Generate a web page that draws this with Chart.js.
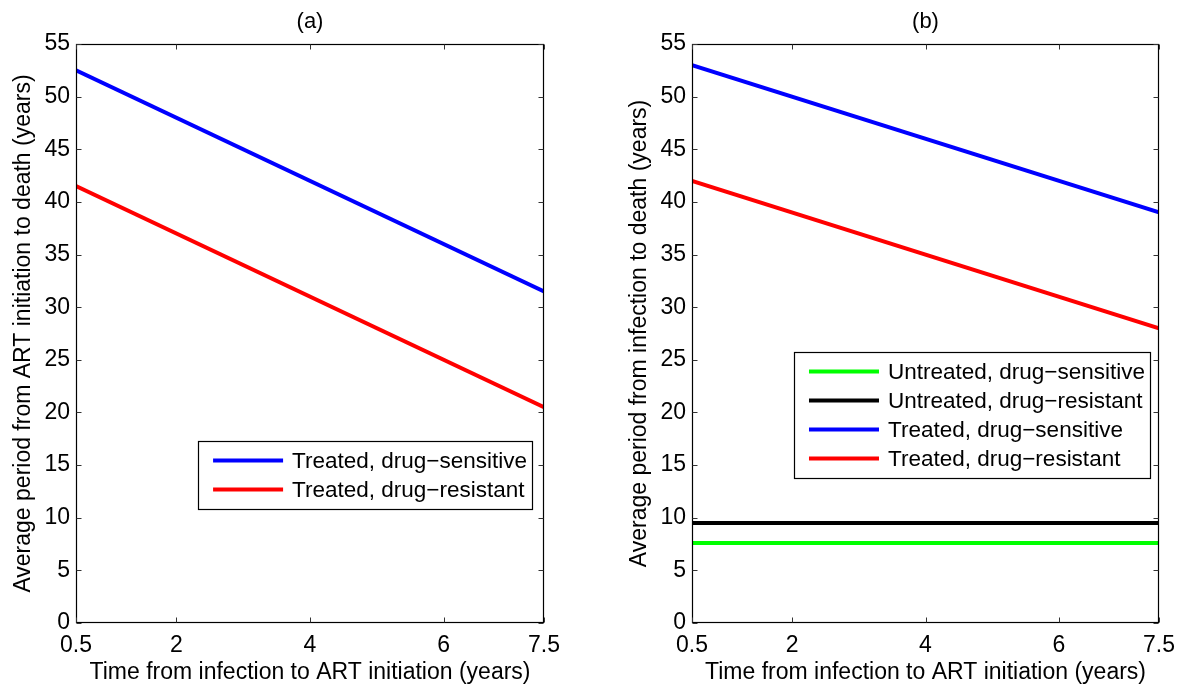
<!DOCTYPE html>
<html>
<head>
<meta charset="utf-8">
<script src="https://cdn.jsdelivr.net/npm/chart.js@4/dist/chart.umd.min.js"></script>
<style>
  html, body { margin: 0; padding: 0; background: #fff; }
  #wrap { position: relative; width: 1184px; height: 686px; }
  canvas { position: absolute; top: 0; }
  #chartA { left: 0; }
  #chartB { left: 592px; }
</style>
</head>
<body>
<div id="wrap">
  <canvas id="chartA" width="592" height="686"></canvas>
  <canvas id="chartB" width="592" height="686"></canvas>
</div>
<script>
// data
const timeToArt = [0.5, 7.5];
const xTicks = [0.5, 2, 4, 6, 7.5];

const aTreatedSensitive = [52.5, 31.5];
const aTreatedResistant = [41.5, 20.5];

const bUntreatedSensitive = [7.6, 7.6];
const bUntreatedResistant = [9.5, 9.5];
const bTreatedSensitive = [53, 39];
const bTreatedResistant = [42, 28];

const FONT = "'Liberation Sans', Arial, Helvetica, sans-serif";
Chart.defaults.font.family = FONT;
Chart.defaults.font.size = 23;
Chart.defaults.color = "#000";

const pts = ys => timeToArt.map((x, i) => ({ x, y: ys[i] }));

const line = (label, ys, color) => ({
  label,
  data: pts(ys),
  borderColor: color,
  backgroundColor: color,
  borderWidth: 4,
  pointRadius: 0,
  tension: 0
});

// matlab-style box, inward ticks, panel title and legend box
const matlabBox = {
  id: "matlabBox",
  afterDraw(chart, args, opts) {
    const { ctx, chartArea: a, scales } = chart;
    const L = Math.round(a.left) + 0.5, R = Math.round(a.right) - 0.5;
    const T = Math.round(a.top) + 0.5, B = Math.round(a.bottom) - 0.5;
    ctx.save();
    ctx.strokeStyle = "#000";
    ctx.lineWidth = 1.2;
    ctx.strokeRect(L, T, R - L, B - T);

    ctx.strokeStyle = "#333";
    ctx.lineWidth = 1;
    ctx.beginPath();
    scales.x.ticks.forEach(t => {
      const px = Math.round(scales.x.getPixelForValue(t.value)) + 0.5;
      ctx.moveTo(px, B); ctx.lineTo(px, B - 5);
      ctx.moveTo(px, T); ctx.lineTo(px, T + 5);
    });
    scales.y.ticks.forEach(t => {
      const py = Math.round(scales.y.getPixelForValue(t.value)) + 0.5;
      ctx.moveTo(L, py); ctx.lineTo(L + 5, py);
      ctx.moveTo(R, py); ctx.lineTo(R - 5, py);
    });
    ctx.stroke();

    // title
    ctx.fillStyle = "#000";
    ctx.font = "22px " + FONT;
    ctx.textAlign = "center";
    ctx.textBaseline = "middle";
    ctx.fillText(opts.title, (a.left + a.right) / 2, 22);

    // legend
    ctx.font = "22.5px " + FONT;
    const sets = chart.data.datasets;
    const order = opts.order;
    const rowH = 29;
    const textW = Math.max(...order.map(i => ctx.measureText(sets[i].label).width));
    const w = 94 + textW + 5;
    const h = (order.length - 1) * rowH + 39;
    const right = a.right - opts.right;
    const left = right - w;
    const top = opts.top != null ? a.top + opts.top : a.bottom - opts.bottom - h;
    ctx.fillStyle = "#fff";
    ctx.fillRect(left, top, w, h);
    ctx.strokeStyle = "#000";
    ctx.lineWidth = 1.2;
    ctx.strokeRect(Math.round(left) + 0.5, Math.round(top) + 0.5, Math.round(w), Math.round(h));
    ctx.textAlign = "left";
    order.forEach((idx, r) => {
      const y = top + 19.5 + r * rowH;
      ctx.strokeStyle = sets[idx].borderColor;
      ctx.lineWidth = 4;
      ctx.beginPath();
      ctx.moveTo(left + 15, y);
      ctx.lineTo(left + 85, y);
      ctx.stroke();
      ctx.fillStyle = "#000";
      ctx.fillText(sets[idx].label, left + 94, y + 1);
    });
    ctx.restore();
  }
};

function makeOptions(yWidth, yTitle, yTitlePad, rightPad, box) {
  return {
    responsive: false,
    animation: false,
    layout: { padding: { top: 44, right: rightPad, left: 0, bottom: 0 } },
    plugins: {
      legend: { display: false },
      tooltip: { enabled: false },
      matlabBox: box
    },
    scales: {
      x: {
        type: "linear",
        min: 0.5,
        max: 7.5,
        afterBuildTicks: s => { s.ticks = xTicks.map(v => ({ value: v })); },
        afterFit: s => { s.height = 63; },
        grid: { display: false, drawTicks: false },
        border: { display: false },
        ticks: { padding: 9, autoSkip: false, maxRotation: 0, callback: v => String(v) },
        title: {
          display: true,
          text: "Time from infection to ART initiation (years)",
          padding: { top: 0, bottom: 0 }
        }
      },
      y: {
        min: 0,
        max: 55,
        afterFit: s => { s.width = yWidth; },
        grid: { display: false, drawTicks: false },
        border: { display: false },
        ticks: { stepSize: 5, padding: 6 },
        title: {
          display: true,
          text: yTitle,
          padding: { top: yTitlePad, bottom: 0 }
        }
      }
    }
  };
}

new Chart(document.getElementById("chartA"), {
  type: "line",
  data: {
    datasets: [
      line("Treated, drug\u2212sensitive", aTreatedSensitive, "#0000ff"),
      line("Treated, drug\u2212resistant", aTreatedResistant, "#ff0000")
    ]
  },
  options: makeOptions(76, "Average period from ART initiation to death (years)", 10, 48,
    { title: "(a)", order: [0, 1], right: 12, bottom: 114 }),
  plugins: [matlabBox]
});

new Chart(document.getElementById("chartB"), {
  type: "line",
  data: {
    datasets: [
      line("Untreated, drug\u2212sensitive", bUntreatedSensitive, "#00ff00"),
      line("Untreated, drug\u2212resistant", bUntreatedResistant, "#000000"),
      line("Treated, drug\u2212sensitive", bTreatedSensitive, "#0000ff"),
      line("Treated, drug\u2212resistant", bTreatedResistant, "#ff0000")
    ]
  },
  options: makeOptions(100, "Average period from infection to death (years)", 34, 24,
    { title: "(b)", order: [0, 1, 2, 3], right: 9, top: 308 }),
  plugins: [matlabBox]
});
</script>
</body>
</html>
